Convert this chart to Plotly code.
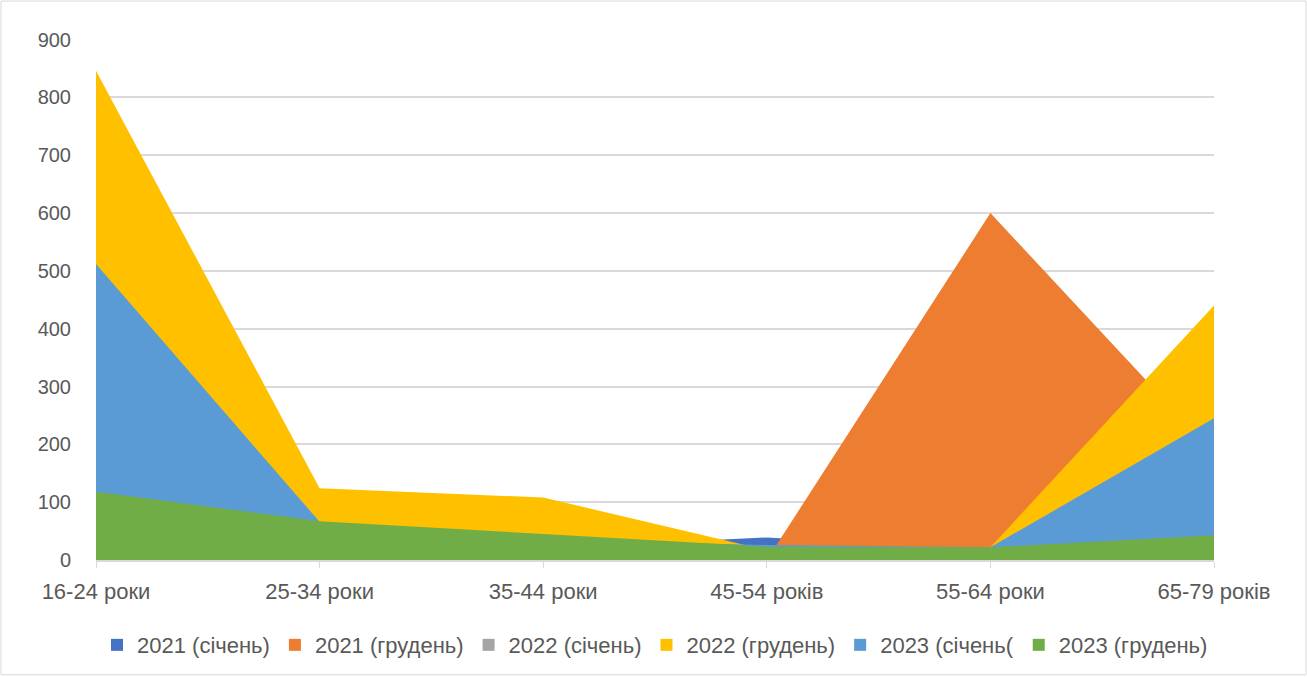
import plotly.graph_objects as go

categories = ["16-24 роки", "25-34 роки", "35-44 роки", "45-54 років", "55-64 роки", "65-79 років"]

series_names = ["2021 (січень)", "2021 (грудень)", "2022 (січень)", "2022 (грудень)", "2023 (січень(", "2023 (грудень)"]

s2021_jan = [10, 15, 20, 39, 18, 30]
s2021_dec = [8, 8, 5, 0, 600, 185]
s2022_jan = [15, 20, 18, 15, 12, 20]
s2022_dec = [846, 124, 108, 17, 22, 440]
s2023_jan = [512, 66, 35, 26, 22, 245]
s2023_dec = [118, 67, 45, 23, 22, 43]

colors = ["#4472C4", "#ED7D31", "#A5A5A5", "#FFC000", "#5B9BD5", "#70AD47"]

all_series = [s2021_jan, s2021_dec, s2022_jan, s2022_dec, s2023_jan, s2023_dec]

fig = go.Figure()
for name, vals, col in zip(series_names, all_series, colors):
    fig.add_trace(go.Scatter(
        x=categories, y=vals, name=name, mode="none", legendgroup=name,
        fill="tozeroy", fillcolor=col, line=dict(color=col, width=0),
        showlegend=False,
    ))
# legend entries with square swatches
for name, col in zip(series_names, colors):
    fig.add_trace(go.Scatter(
        x=[None], y=[None], name=name, mode="markers", legendgroup=name,
        marker=dict(symbol="square", size=12, color=col), showlegend=True,
    ))

W, H = 1307, 677
ml, mr, mt, mb = 96, 93, 39, 116
pw, ph = W - ml - mr, H - mt - mb

fig.update_layout(
    width=W, height=H,
    margin=dict(l=ml, r=mr, t=mt, b=mb),
    paper_bgcolor="white", plot_bgcolor="white",
    font=dict(family="Liberation Sans, Arial, sans-serif", size=20, color="#595959"),
    showlegend=True,
    legend=dict(orientation="h", x=0.5, xanchor="center", y=-0.161, yanchor="middle",
                font=dict(size=22, color="#595959"), itemwidth=30, traceorder="normal"),
    xaxis=dict(type="category", range=[0, 5], showgrid=False, showline=True,
               linecolor="#d9d9d9", linewidth=1.5, ticks="outside", ticklen=6,
               tickcolor="#d9d9d9", zeroline=False, ticklabelstandoff=5,
               tickfont=dict(size=22, color="#595959")),
    yaxis=dict(range=[0, 901], tickvals=list(range(0, 901, 100)), showgrid=True,
               gridcolor="#d9d9d9", gridwidth=1.5,
               showline=False, zeroline=False, ticks="", ticklabelstandoff=24,
               tickfont=dict(size=20, color="#595959")),
    shapes=[dict(type="rect", xref="paper", yref="paper",
                 x0=(1 - ml) / pw, x1=(W - 1 - ml) / pw,
                 y0=-(H - 1 - mt - ph) / ph, y1=(ph + mt - 1) / ph,
                 line=dict(color="#d9d9d9", width=1), layer="below")],
)

fig.write_html("out.html", config={"displayModeBar": False},
               post_script="document.body.style.margin='0';document.body.style.overflow='hidden';")
